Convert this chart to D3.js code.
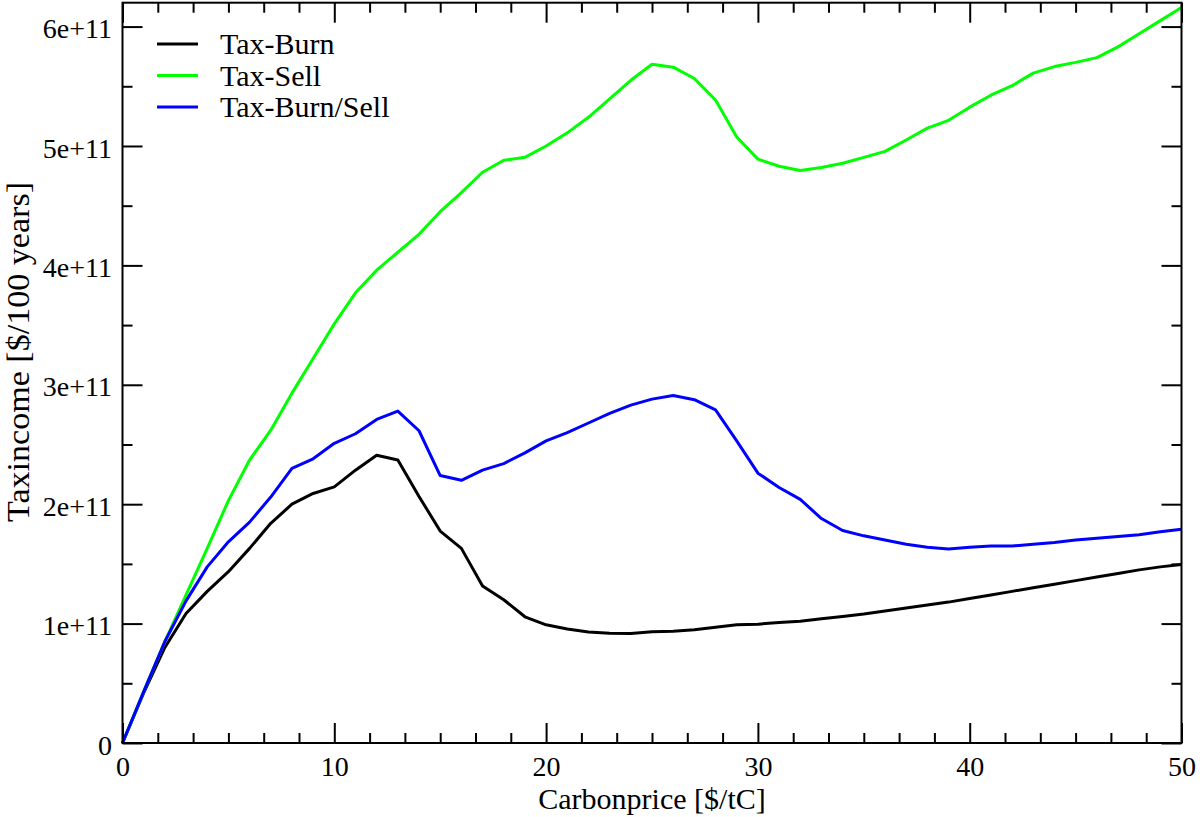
<!DOCTYPE html>
<html><head><meta charset="utf-8">
<script src="https://cdn.jsdelivr.net/npm/d3@7"></script>
<style>
html,body{margin:0;padding:0;background:#fff;}
svg{display:block;}
text{font-family:"Liberation Serif","Times New Roman",serif;fill:#000;}
</style></head>
<body>
<svg id="chart" width="1200" height="817"></svg>
<script>
// ---- data (tax income in units of 1e11 $/100 years) ----
const carbonPrice = [0,1,2,3,4,5,6,7,8,9,10,11,12,13,14,15,16,17,18,19,20,21,22,23,24,25,26,27,28,29,30,31,32,33,34,35,36,37,38,39,40,41,42,43,44,45,46,47,48,49,50];
const taxBurn = [0,0.42,0.80,1.085,1.27,1.435,1.63,1.84,2.00,2.09,2.145,2.285,2.41,2.37,2.065,1.775,1.63,1.315,1.20,1.057,0.99,0.955,0.93,0.92,0.918,0.932,0.935,0.948,0.97,0.99,0.995,1.01,1.02,1.04,1.06,1.08,1.105,1.13,1.155,1.18,1.21,1.24,1.27,1.30,1.33,1.36,1.39,1.42,1.45,1.475,1.495];
const taxSell = [0,0.43,0.85,1.24,1.63,2.03,2.37,2.62,2.93,3.22,3.51,3.77,3.96,4.11,4.26,4.45,4.61,4.78,4.88,4.905,5.0,5.11,5.24,5.395,5.55,5.685,5.66,5.565,5.385,5.075,4.89,4.83,4.795,4.82,4.855,4.905,4.955,5.05,5.15,5.215,5.325,5.425,5.505,5.61,5.665,5.70,5.74,5.83,5.94,6.05,6.16];
const taxBurnSell = [0,0.43,0.85,1.19,1.475,1.685,1.85,2.06,2.30,2.38,2.51,2.59,2.71,2.78,2.615,2.24,2.20,2.285,2.34,2.43,2.53,2.60,2.68,2.76,2.83,2.88,2.91,2.875,2.79,2.53,2.26,2.14,2.04,1.88,1.78,1.735,1.70,1.665,1.64,1.625,1.64,1.65,1.65,1.665,1.68,1.70,1.715,1.73,1.745,1.77,1.79];
const seriesNames = ["Tax-Burn","Tax-Sell","Tax-Burn/Sell"];
const seriesColors = ["#000000","#00ff00","#0000ff"];
const xMajorTicks = [0,10,20,30,40,50];
const yMajorTicks = [0,1e11,2e11,3e11,4e11,5e11,6e11];
const yTickLabels = ["0","1e+11","2e+11","3e+11","4e+11","5e+11","6e+11"];
const xLabel = "Carbonprice [$/tC]";
const yLabel = "Taxincome [$/100 years]";

// ---- layout ----
const L = 122.5, R = 1181.5, T = 2.7, B = 743;
const svg = d3.select("#chart");
const x = d3.scaleLinear().domain([0,50]).range([L,R]);
const y = d3.scaleLinear().domain([0,6.2e11]).range([B,T]);

const xMinor = [];
for (let i = 0; i < xMajorTicks.length-1; i++) for (let k = 1; k < 6; k++) xMinor.push(xMajorTicks[i] + k*10/6);
const yMinor = [];
for (let i = 0; i < yMajorTicks.length-1; i++) yMinor.push((yMajorTicks[i]+yMajorTicks[i+1])/2);

// lines
const all = [taxBurn, taxSell, taxBurnSell];
const line = d3.line().x((d,i)=>x(carbonPrice[i])).y(d=>y(d*1e11));
all.forEach((s,j)=>{
  svg.append("path").datum(s).attr("d", line).attr("fill","none")
    .attr("stroke", seriesColors[j]).attr("stroke-width",3).attr("stroke-linejoin","round");
});

// axes with inward ticks
function styleAxis(g){ g.select(".domain").remove(); g.selectAll("line").attr("stroke","#000").attr("stroke-width",2); }
const fs = 28;
// bottom
const gb = svg.append("g").attr("transform",`translate(0,${B})`)
  .call(d3.axisBottom(x).tickValues(xMajorTicks).tickSize(-20).tickPadding(13).tickFormat(d3.format("d")));
styleAxis(gb); gb.selectAll("text").attr("font-size",fs).attr("dy","0.71em");
svg.append("g").attr("transform",`translate(0,${B})`).call(d3.axisBottom(x).tickValues(xMinor).tickSize(-10).tickFormat("")).call(styleAxis);
// top
svg.append("g").attr("transform",`translate(0,${T})`).call(d3.axisTop(x).tickValues(xMajorTicks).tickSize(-20).tickFormat("")).call(styleAxis);
svg.append("g").attr("transform",`translate(0,${T})`).call(d3.axisTop(x).tickValues(xMinor).tickSize(-10).tickFormat("")).call(styleAxis);
// left
const gl = svg.append("g").attr("transform",`translate(${L},0)`)
  .call(d3.axisLeft(y).tickValues(yMajorTicks).tickSize(-20).tickPadding(10.5).tickFormat((d,i)=>yTickLabels[i]));
styleAxis(gl); gl.selectAll("text").attr("font-size",fs).attr("dy","0.4em");
svg.append("g").attr("transform",`translate(${L},0)`).call(d3.axisLeft(y).tickValues(yMinor).tickSize(-10).tickFormat("")).call(styleAxis);
// right
svg.append("g").attr("transform",`translate(${R},0)`).call(d3.axisRight(y).tickValues(yMajorTicks).tickSize(-20).tickFormat("")).call(styleAxis);
svg.append("g").attr("transform",`translate(${R},0)`).call(d3.axisRight(y).tickValues(yMinor).tickSize(-10).tickFormat("")).call(styleAxis);

// frame
svg.append("rect").attr("x",L).attr("y",T).attr("width",R-L).attr("height",B-T)
  .attr("fill","none").attr("stroke","#000").attr("stroke-width",2);

// axis labels
svg.append("text").attr("x",(L+R)/2).attr("y",809).attr("text-anchor","middle").attr("font-size",30).text(xLabel);
svg.append("text").attr("transform",`translate(29,352) rotate(-90)`).attr("text-anchor","middle")
  .attr("font-size",32).attr("textLength",340).attr("lengthAdjust","spacingAndGlyphs").text(yLabel);

// legend
const legY = [44,75.5,107];
seriesNames.forEach((n,j)=>{
  svg.append("line").attr("x1",157).attr("x2",198).attr("y1",legY[j]).attr("y2",legY[j])
    .attr("stroke",seriesColors[j]).attr("stroke-width",3);
  svg.append("text").attr("x",220).attr("y",legY[j]+10).attr("font-size",30).text(n);
});
</script>
</body></html>
